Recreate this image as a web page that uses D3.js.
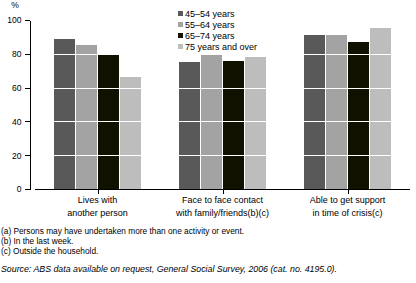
<!DOCTYPE html>
<html>
<head>
<meta charset="utf-8">
<script src="https://cdn.jsdelivr.net/npm/d3@7"></script>
<style>
body { margin: 0; background: #fff; }
svg { display: block; font-family: "Liberation Sans", Arial, sans-serif; }
.axis path, .axis line { stroke: #000; shape-rendering: crispEdges; }
.axis text { font-size: 8.5px; fill: #000; }
.foot { font-size: 8.3px; fill: #000; }
</style>
</head>
<body>
<div id="chart"></div>
<script>
var categories = [["Lives with", "another person"],
                  ["Face to face contact", "with family/friends(b)(c)"],
                  ["Able to get support", "in time of crisis(c)"]];
var series = ["45–54 years", "55–64 years", "65–74 years", "75 years and over"];
var values = [
  [89, 85, 79, 66],
  [75, 79, 76, 78],
  [91, 91, 87, 95]
];
var yTicks = [0, 20, 40, 60, 80, 100];
var footnotes = ["(a) Persons may have undertaken more than one activity or event.",
                 "(b) In the last week.",
                 "(c) Outside the household."];
var source = "Source: ABS data available on request, General Social Survey, 2006 (cat. no. 4195.0).";

var colors = ["#595959", "#a3a3a3", "#111100", "#bdbdbd"];
var W = 416, H = 283;

var svg = d3.select("#chart").append("svg")
    .attr("width", W).attr("height", H);

var x0 = d3.scaleBand().domain(d3.range(categories.length))
    .range([35, 410]).paddingInner(0.3).paddingOuter(0.15);
var x1 = d3.scaleBand().domain(d3.range(series.length))
    .range([0, x0.bandwidth()]);
var y = d3.scaleLinear().domain([0, 100]).range([189, 20]);
var color = d3.scaleOrdinal().domain(d3.range(series.length)).range(colors);

// bars
var groups = svg.selectAll(".grp")
    .data(values)
    .enter().append("g")
    .attr("class", "grp")
    .attr("transform", function(d, i) { return "translate(" + x0(i) + ",0)"; });

groups.selectAll("rect")
    .data(function(d) { return d; })
    .enter().append("rect")
    .attr("x", function(d, i) { return Math.round(x1(i)); })
    .attr("width", x1.bandwidth() - 1)
    .attr("y", function(d) { return y(d); })
    .attr("height", function(d) { return y(0) - y(d); })
    .attr("fill", function(d, i) { return color(i); })
    .attr("shape-rendering", "crispEdges");

// white grid lines over the bars
svg.selectAll(".grid")
    .data(yTicks.filter(function(t) { return t > 0 && t < 100; }))
    .enter().append("line")
    .attr("x1", 35).attr("x2", 410)
    .attr("y1", function(d) { return Math.round(y(d)) + 0.5; })
    .attr("y2", function(d) { return Math.round(y(d)) + 0.5; })
    .attr("stroke", "#fff").attr("stroke-width", 1.2);

// y axis
var yAxis = svg.append("g")
    .attr("class", "axis")
    .attr("transform", "translate(29.5,0)")
    .call(d3.axisLeft(y).tickValues(yTicks).tickSize(5).tickSizeOuter(0).tickPadding(3));
yAxis.selectAll(".tick text").attr("dy", "0.35em");

svg.append("text")
    .attr("x", 15).attr("y", 8)
    .attr("text-anchor", "middle")
    .style("font-size", "8.5px")
    .text("%");

// x axis
var xAxis = svg.append("g")
    .attr("class", "axis")
    .attr("transform", "translate(0," + (Math.round(y(0)) + 0.5) + ")");
xAxis.append("line")
    .attr("x1", 35).attr("x2", 410);
xAxis.selectAll(".xt")
    .data(categories)
    .enter().append("line")
    .attr("x1", function(d, i) { return Math.round(x0(i) + x0.bandwidth() / 2) + 0.5; })
    .attr("x2", function(d, i) { return Math.round(x0(i) + x0.bandwidth() / 2) + 0.5; })
    .attr("y1", 0).attr("y2", 4);

var labels = svg.selectAll(".cat")
    .data(categories)
    .enter().append("text")
    .attr("class", "cat")
    .attr("text-anchor", "middle")
    .style("font-size", "9px")
    .attr("transform", function(d, i) { return "translate(" + (x0(i) + x0.bandwidth() / 2) + ",203)"; });
labels.selectAll("tspan")
    .data(function(d) { return d; })
    .enter().append("tspan")
    .attr("x", 0)
    .attr("y", function(d, i) { return i * 12.5; })
    .text(function(d) { return d; });

// legend
var legend = svg.selectAll(".legend")
    .data(series)
    .enter().append("g")
    .attr("class", "legend")
    .attr("transform", function(d, i) { return "translate(178," + (13.5 + i * 11) + ")"; });
legend.append("rect")
    .attr("x", 0).attr("y", -2.5)
    .attr("width", 5).attr("height", 5)
    .attr("fill", function(d, i) { return color(i); });
legend.append("text")
    .attr("x", 7).attr("y", 0)
    .attr("dy", "0.35em")
    .style("font-size", "9px")
    .text(function(d) { return d; });

// footnotes
svg.selectAll(".fn")
    .data(footnotes)
    .enter().append("text")
    .attr("class", "foot")
    .attr("x", 1)
    .attr("y", function(d, i) { return 234 + i * 10; })
    .text(function(d) { return d; });

svg.append("text")
    .attr("class", "foot")
    .attr("x", 1).attr("y", 272)
    .style("font-style", "italic")
    .style("font-size", "8.8px")
    .text(source);
</script>
</body>
</html>
